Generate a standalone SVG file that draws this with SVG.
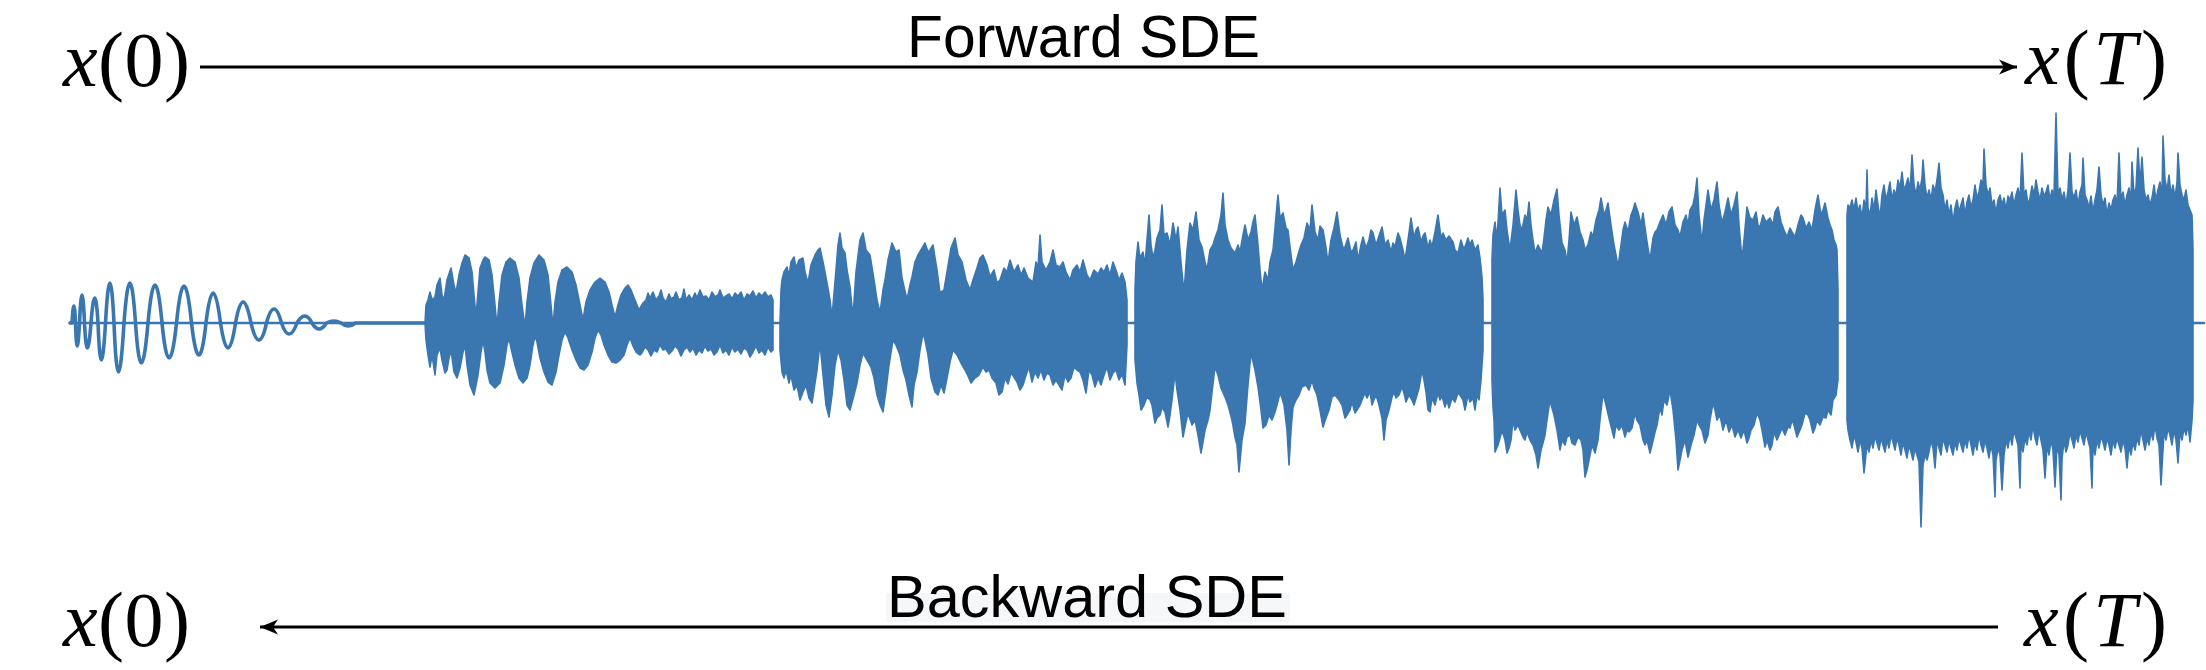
<svg xmlns="http://www.w3.org/2000/svg" width="2206" height="670" viewBox="0 0 2206 670">
<style>
.math{font-family:"Liberation Serif","DejaVu Serif",serif;font-size:78px;fill:#000}
.it{font-style:italic}
.lbl{font-family:"Liberation Sans",Arial,sans-serif;font-size:59px;fill:#000}
.conn{stroke:#000;stroke-width:3;fill:none}
.wave{fill:#3a76af;stroke:#3a76af;stroke-width:1.6;stroke-linejoin:round}
.line{fill:none;stroke:#3a76af;stroke-linejoin:round;stroke-linecap:round}
</style>
<defs>
<marker id="head" markerUnits="userSpaceOnUse" markerWidth="24" markerHeight="20" refX="18" refY="8" orient="auto">
<path d="M18,8 L0,0.5 L5,8 L0,15.5 Z" fill="#000"/>
</marker>
</defs>
<rect width="2206" height="670" fill="#fff"/>

<g id="labels">
<g id="x0-top"><text class="math" x="63" y="86" textLength="127" lengthAdjust="spacing"><tspan class="it">x</tspan>(0)</text></g>
<g id="xT-top"><text class="math" x="2025" y="84" textLength="142" lengthAdjust="spacing"><tspan class="it">x</tspan>(<tspan class="it">T</tspan>)</text></g>
<g id="x0-bottom"><text class="math" x="63" y="646" textLength="127" lengthAdjust="spacing"><tspan class="it">x</tspan>(0)</text></g>
<g id="xT-bottom"><text class="math" x="2024" y="646" textLength="143" lengthAdjust="spacing"><tspan class="it">x</tspan>(<tspan class="it">T</tspan>)</text></g>
<g id="forward-label"><text class="lbl" x="907" y="57" textLength="353" lengthAdjust="spacingAndGlyphs">Forward SDE</text></g>
<g id="backward-label"><rect x="886" y="593" width="404" height="29" fill="#f5f7f9"/><text class="lbl" x="887" y="617" textLength="400" lengthAdjust="spacingAndGlyphs">Backward SDE</text></g>
</g>

<g id="connectors">
<line class="conn" x1="200" y1="67" x2="2017" y2="67" marker-end="url(#head)"/>
<line class="conn" x1="1998" y1="627" x2="260" y2="627" marker-end="url(#head)"/>
</g>

<g id="waveform">
<line class="line" x1="70" y1="323" x2="2204" y2="323" stroke-width="2.6"/>
<path id="seg1" class="line" stroke-width="3.6" d="M70,323 L72,323 Q74,289 75.5,323 Q77,369 79.5,323 Q82,267 84.5,323 Q87,373 91,323 Q95,273 98,323 Q101,397 105.5,323 Q110,243 114,323 Q118,421 124,323 Q130,243 135.5,323 Q141,403 148,323 Q155,247 162,323 Q169,393 176.5,323 Q184,249 191.5,323 Q199,387 206,323 Q213,263 220.5,323 Q228,373 235.5,323 Q243,281 251,323 Q259,357 266.5,323 Q274,295 281.5,323 Q289,345 297,323 Q305,309 312,323 Q319,335 326.5,323 Q334,319 341,323 Q348,329 355.5,323 L430,323"/>
<polygon id="seg2" class="wave" points="425,323 426,305 428,300 430,292 432,300 435,297 437,285 440,278 442,295 444,300 447,280 451,268 454,285 456,293 459,275 462,263 465,255 469,258 472,272 474,295 476,317 478,292 480,268 483,260 485,257 489,260 492,275 495,305 497,327 499,302 502,275 506,262 510,258 515,262 519,278 522,305 525,327 527,302 530,278 534,263 539,255 544,260 548,275 551,305 553,327 555,302 558,282 562,270 567,267 572,272 576,285 580,305 583,320 586,302 590,290 595,282 600,278 605,282 609,292 612,305 615,317 618,305 621,295 625,288 628,285 631,290 635,300 639,310 643,303 646,300 648,293 650,298 653,292 656,300 659,296 661,290 663,298 666,302 669,294 671,299 674,297 676,292 679,300 682,298 684,289 686,300 689,295 692,300 695,293 697,298 700,290 703,297 706,296 709,300 712,292 715,297 718,295 720,290 723,298 726,296 729,294 732,299 735,293 738,296 741,292 744,300 747,294 750,296 753,291 756,298 759,293 762,296 765,292 768,297 771,295 773,300 773,323 773,350 771,352 768,347 765,355 762,350 759,353 756,346 753,352 750,357 747,350 744,348 741,354 738,349 735,352 732,347 729,355 726,350 723,353 720,345 717,352 714,355 711,349 708,351 705,346 702,353 699,350 696,355 693,348 690,352 687,347 684,350 681,356 678,349 675,346 672,351 669,354 666,349 663,350 660,345 657,352 654,350 651,356 648,350 645,347 642,353 640,355 636,352 633,346 630,338 627,345 624,355 620,360 616,363 612,362 608,355 604,345 601,335 598,330 595,338 592,352 588,365 584,370 580,368 576,360 572,350 568,338 565,332 562,340 559,355 556,372 552,385 548,382 544,372 540,358 537,342 535,336 533,345 530,365 527,378 523,383 519,378 515,365 511,348 509,338 507,345 504,365 500,383 495,388 490,383 487,370 485,352 483,340 481,352 478,375 474,395 470,385 467,365 465,345 463,352 460,368 457,378 454,372 451,350 449,358 447,370 445,373 442,360 440,348 437,355 435,375 432,355 430,367 428,355 426,340 425,323"/>
<polygon id="seg3" class="wave" points="780,323 781,290 782,280 784,272 787,267 789,276 791,262 794,257 796,268 799,260 803,258 805,272 808,283 811,265 815,255 818,250 820,248 823,262 827,283 830,300 832,317 835,282 838,245 840,233 842,248 845,253 847,270 850,287 853,317 856,272 860,240 863,233 866,250 870,255 874,280 877,300 880,313 883,290 885,280 888,260 892,243 896,252 899,250 902,278 907,300 910,285 912,277 915,262 918,255 921,250 925,243 928,252 930,250 933,245 937,270 940,293 944,290 947,272 951,248 955,238 958,255 962,262 966,280 970,290 973,280 977,268 980,258 983,255 987,265 990,277 994,270 997,283 1000,280 1004,268 1007,272 1010,260 1014,272 1018,265 1021,275 1024,268 1028,278 1033,282 1036,262 1038,268 1040,235 1042,262 1046,270 1050,262 1053,250 1056,265 1060,267 1063,262 1066,272 1070,280 1073,270 1077,265 1080,272 1083,260 1087,275 1090,280 1094,270 1098,274 1101,268 1104,272 1107,265 1110,275 1113,262 1116,270 1119,280 1122,273 1125,282 1127,300 1127,323 1127,345 1125,385 1122,374 1119,380 1116,370 1113,373 1110,380 1107,367 1104,375 1101,385 1098,378 1095,387 1092,375 1089,370 1086,393 1083,380 1080,372 1077,370 1074,367 1071,378 1068,382 1065,375 1062,390 1059,385 1056,380 1053,385 1050,375 1047,373 1044,380 1041,370 1038,378 1035,372 1032,382 1029,367 1026,375 1023,385 1020,390 1017,382 1014,377 1011,373 1008,384 1005,378 1002,392 999,395 996,383 992,378 989,370 986,372 983,367 979,375 975,378 971,383 968,376 965,370 961,363 957,355 953,350 950,362 947,378 944,393 941,385 938,395 935,392 931,378 928,355 925,340 923,333 920,350 917,372 914,385 912,407 909,395 906,380 903,370 900,355 896,345 893,340 889,365 886,390 883,412 880,405 877,395 874,378 871,367 867,360 863,353 860,365 857,383 854,395 850,410 847,405 844,380 841,360 838,350 835,365 832,395 829,417 826,405 823,375 820,343 817,370 814,390 812,403 809,398 806,385 803,392 800,400 797,385 794,390 791,375 789,383 786,370 784,378 782,372 780,350"/>
<polygon id="seg4" class="wave" points="1135,323 1135,290 1136,262 1138,242 1140,258 1143,252 1145,265 1147,240 1149,215 1151,245 1153,258 1155,250 1157,238 1160,230 1162,205 1164,235 1167,233 1170,245 1173,223 1176,240 1178,227 1181,262 1184,293 1187,250 1190,223 1193,230 1196,212 1199,240 1202,247 1205,262 1207,270 1210,250 1213,245 1215,238 1218,230 1221,215 1223,193 1225,225 1228,240 1231,248 1235,253 1238,245 1240,252 1243,235 1245,225 1248,240 1251,232 1253,222 1255,215 1258,245 1260,270 1262,290 1265,272 1268,280 1270,262 1273,250 1275,228 1277,205 1278,195 1280,218 1283,213 1286,228 1288,230 1291,255 1293,270 1296,262 1298,255 1301,245 1304,238 1307,223 1310,230 1312,205 1315,232 1318,240 1320,226 1323,230 1326,248 1328,263 1331,240 1334,228 1337,212 1340,235 1343,248 1345,247 1348,238 1351,252 1353,250 1356,242 1358,260 1361,245 1363,237 1366,248 1369,240 1371,230 1373,233 1376,245 1379,236 1382,227 1385,245 1388,240 1391,252 1393,243 1395,247 1398,233 1400,238 1403,250 1405,260 1408,240 1411,218 1414,238 1416,230 1418,227 1421,242 1423,236 1425,233 1428,248 1430,240 1432,247 1435,232 1438,215 1441,238 1443,233 1446,240 1449,236 1453,242 1455,250 1458,253 1461,240 1463,247 1465,247 1468,238 1470,245 1472,240 1475,250 1478,245 1480,258 1482,277 1483,300 1483,323 1483,350 1481,380 1479,400 1477,395 1475,410 1473,398 1470,402 1468,395 1465,410 1463,400 1460,395 1458,393 1455,402 1452,398 1449,408 1447,400 1445,407 1442,396 1440,400 1438,393 1435,405 1432,398 1430,412 1428,410 1426,392 1424,380 1422,370 1419,388 1417,395 1414,405 1412,400 1409,395 1406,402 1404,393 1402,387 1399,395 1396,398 1394,392 1392,397 1389,410 1386,420 1384,440 1382,418 1379,405 1377,398 1375,397 1372,405 1370,392 1367,398 1365,393 1362,400 1360,405 1357,410 1355,413 1352,402 1350,410 1347,415 1345,418 1342,405 1339,400 1335,395 1332,397 1329,410 1326,418 1323,427 1320,410 1317,395 1314,388 1312,380 1309,390 1306,385 1302,387 1299,395 1296,400 1293,407 1291,430 1289,465 1287,430 1284,405 1282,398 1280,393 1277,405 1275,412 1272,420 1269,415 1266,425 1263,428 1261,410 1258,387 1255,370 1251,353 1248,385 1245,423 1242,440 1239,472 1237,445 1235,437 1232,420 1228,405 1225,397 1221,388 1218,375 1215,367 1212,392 1210,410 1208,420 1205,430 1203,442 1201,453 1198,435 1195,420 1192,425 1188,413 1186,422 1183,437 1180,410 1177,390 1175,373 1172,400 1170,415 1168,427 1165,412 1162,407 1160,415 1157,418 1155,423 1152,405 1150,400 1147,397 1144,405 1141,410 1139,395 1137,383 1135,360"/>
<polygon id="seg5" class="wave" points="1492,323 1492,260 1493,235 1495,222 1497,240 1499,205 1500,188 1502,215 1505,210 1507,230 1510,250 1513,225 1516,190 1518,210 1520,225 1522,230 1525,215 1527,220 1529,202 1531,225 1533,240 1535,253 1538,245 1542,253 1544,238 1546,220 1548,207 1551,215 1554,200 1557,189 1559,215 1562,243 1565,250 1567,263 1569,240 1571,212 1574,225 1577,217 1580,232 1583,240 1585,250 1588,245 1591,232 1593,237 1596,220 1599,210 1601,198 1604,215 1606,210 1608,203 1611,225 1614,245 1616,255 1618,267 1621,245 1623,230 1625,222 1628,232 1631,215 1633,210 1635,203 1638,212 1641,225 1643,213 1646,235 1648,248 1650,260 1653,238 1655,232 1657,230 1660,222 1663,215 1666,225 1669,212 1672,207 1675,225 1678,230 1680,237 1683,222 1686,215 1688,225 1690,210 1693,205 1695,195 1697,178 1699,215 1702,243 1704,220 1706,205 1708,190 1711,210 1714,200 1717,182 1719,205 1722,223 1725,212 1728,198 1731,215 1734,205 1737,192 1739,225 1742,260 1744,240 1747,207 1750,218 1753,220 1756,212 1758,225 1760,227 1763,215 1766,222 1770,218 1773,225 1775,212 1778,207 1781,222 1784,230 1787,237 1790,228 1792,232 1795,237 1798,225 1801,215 1803,218 1806,228 1809,222 1812,230 1815,210 1818,195 1821,215 1823,210 1825,203 1828,218 1830,225 1832,230 1834,240 1836,245 1837,250 1838,290 1838,323 1838,380 1836,395 1833,400 1831,415 1828,410 1826,418 1823,417 1820,425 1817,420 1815,428 1813,433 1810,420 1808,415 1805,413 1802,425 1800,430 1797,437 1794,425 1792,420 1790,428 1788,427 1785,435 1782,428 1780,433 1777,440 1774,432 1772,445 1770,450 1767,440 1765,447 1762,430 1760,420 1757,413 1754,425 1751,430 1749,438 1747,443 1744,430 1741,438 1738,430 1735,437 1732,425 1729,432 1726,420 1723,430 1720,415 1717,420 1715,410 1713,403 1710,420 1708,435 1705,443 1702,430 1699,425 1697,420 1694,435 1691,445 1688,457 1685,440 1682,450 1680,460 1678,470 1676,440 1673,410 1670,390 1667,405 1664,400 1662,415 1660,407 1657,425 1655,432 1652,445 1650,453 1647,440 1645,445 1643,440 1640,425 1637,420 1635,413 1632,428 1629,432 1627,430 1625,437 1622,425 1619,430 1616,425 1614,438 1612,430 1609,418 1606,405 1603,393 1600,420 1598,440 1595,453 1592,445 1589,460 1587,470 1585,477 1583,450 1581,440 1578,437 1575,445 1572,443 1570,435 1567,437 1565,445 1562,440 1560,450 1557,430 1554,415 1552,408 1550,400 1547,420 1545,435 1543,443 1541,450 1538,468 1536,455 1533,445 1530,440 1527,432 1525,440 1523,437 1520,430 1518,425 1515,430 1513,420 1511,440 1509,448 1507,453 1505,440 1502,430 1500,438 1498,445 1495,452 1494,420 1493,407 1492,380"/>
<polygon id="seg6" class="wave" points="1847,323 1847,215 1848,205 1850,208 1852,200 1854,210 1856,198 1858,212 1860,205 1862,218 1864,200 1866,210 1867,170 1868,208 1870,215 1872,198 1874,210 1876,190 1878,205 1880,218 1882,195 1884,185 1886,200 1888,192 1890,182 1892,200 1894,190 1896,196 1898,180 1900,188 1902,172 1904,190 1906,185 1908,178 1910,192 1912,155 1914,185 1916,195 1918,182 1920,190 1922,178 1923,160 1925,185 1927,198 1929,190 1931,200 1933,185 1935,192 1937,180 1939,163 1941,188 1943,195 1945,210 1947,200 1949,215 1951,205 1953,222 1955,208 1957,200 1959,212 1961,205 1963,198 1965,215 1967,202 1969,195 1971,208 1973,200 1975,185 1977,198 1979,192 1981,180 1983,185 1984,149 1986,185 1988,195 1990,188 1992,205 1994,200 1996,213 1998,200 2000,195 2002,205 2004,198 2006,210 2008,196 2010,200 2012,192 2014,205 2016,195 2018,188 2020,200 2022,153 2024,195 2026,190 2028,205 2030,198 2032,186 2034,195 2036,180 2038,192 2040,200 2042,188 2044,196 2046,192 2048,185 2050,200 2052,190 2054,196 2056,113 2058,195 2060,188 2062,200 2064,192 2066,205 2068,190 2070,153 2072,192 2074,198 2076,190 2078,205 2080,192 2082,185 2083,158 2085,195 2087,200 2089,208 2091,196 2093,212 2095,200 2097,190 2099,167 2101,195 2103,205 2105,198 2107,215 2109,203 2111,210 2113,200 2115,195 2117,205 2119,153 2121,200 2123,192 2125,205 2127,195 2129,188 2131,200 2132,162 2134,195 2136,188 2138,148 2140,185 2142,157 2144,190 2146,200 2148,195 2150,205 2152,198 2154,185 2156,200 2158,190 2160,182 2162,195 2163,136 2165,180 2167,190 2169,175 2171,195 2173,185 2175,198 2177,182 2178,153 2180,185 2182,195 2184,200 2186,190 2188,205 2190,210 2192,215 2193,250 2193,323 2193,400 2192,420 2190,442 2188,425 2186,435 2184,428 2182,440 2180,432 2178,463 2176,440 2174,430 2172,445 2170,435 2168,428 2166,440 2164,432 2161,485 2159,445 2157,438 2155,425 2153,440 2151,432 2149,445 2147,438 2145,450 2143,440 2141,430 2139,445 2137,438 2135,450 2133,442 2131,455 2129,445 2127,468 2125,448 2123,440 2121,452 2119,445 2117,438 2115,448 2113,440 2111,455 2109,445 2107,438 2105,450 2103,442 2101,436 2099,448 2097,440 2095,455 2093,445 2092,488 2090,448 2088,440 2086,432 2084,445 2082,438 2080,430 2078,442 2076,435 2074,448 2072,440 2070,432 2068,445 2066,452 2064,440 2062,460 2061,500 2059,455 2057,445 2055,487 2053,450 2051,440 2049,455 2047,445 2045,478 2043,450 2041,440 2039,430 2037,445 2035,438 2033,425 2031,440 2029,432 2027,445 2025,438 2023,452 2021,442 2020,488 2018,445 2016,438 2014,430 2012,445 2010,435 2008,448 2006,440 2004,455 2002,490 2000,455 1998,448 1996,460 1995,497 1993,455 1991,445 1989,458 1987,448 1985,440 1983,452 1981,445 1979,435 1977,450 1975,442 1973,455 1971,445 1969,435 1967,448 1965,440 1963,452 1961,445 1959,438 1957,450 1955,442 1953,455 1951,448 1949,440 1947,452 1945,445 1943,438 1941,455 1939,448 1937,440 1935,468 1933,448 1931,440 1929,452 1927,460 1925,455 1923,465 1921,527 1919,462 1917,455 1915,448 1913,460 1911,452 1909,445 1907,458 1905,450 1903,442 1901,455 1899,445 1897,438 1895,450 1893,442 1891,435 1889,448 1887,440 1885,452 1883,445 1881,438 1879,450 1877,443 1875,436 1873,448 1871,440 1869,452 1867,445 1864,473 1862,448 1860,440 1858,452 1856,442 1854,435 1852,448 1850,440 1848,430 1847,420"/>
</g>
</svg>
